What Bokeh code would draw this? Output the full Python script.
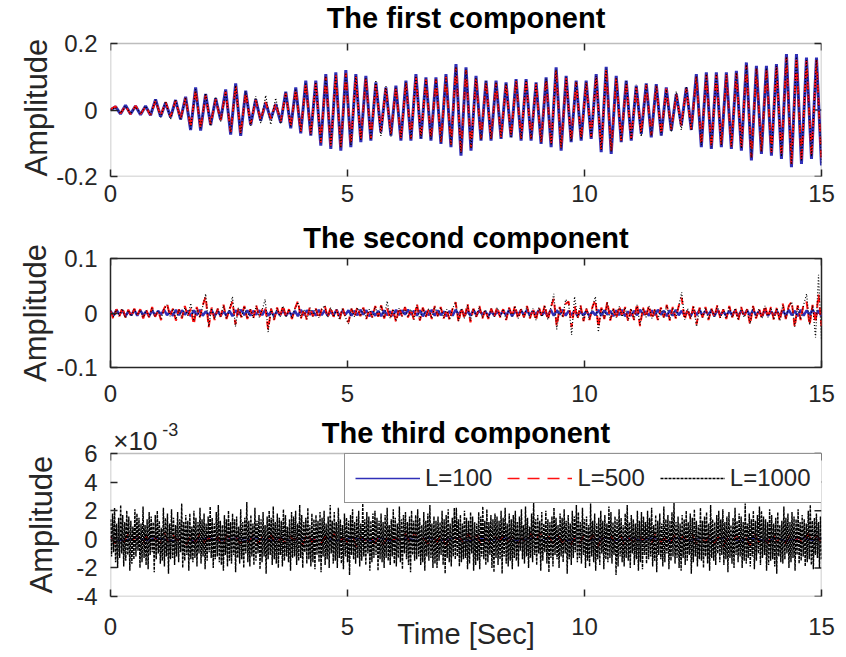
import numpy as np
from bokeh.plotting import figure
from bokeh.layouts import column
from bokeh.models import Range1d, FixedTicker, Legend, LegendItem, Label, Title, BoxAnnotation
from bokeh.embed import file_html
from bokeh.resources import INLINE

# ---------------------------------------------------------------
# Component 1: successive extrema of each reconstruction (x 1e-3)
# ---------------------------------------------------------------
c1_l100 = [0,
    10, -12, 14, -12, 12, -14, 12, -16, 32, -20, 22, -22, 30, -28, 40, -60, 68, -62,
    48, -45, 35, -30, 62, -74, 80, -78, 58, -45, 32, -32, 22, -28, 18, -38, 55, -55,
    68, -70, 88, -77, 88, -107, 108, -117, 113, -122, 120, -112, 108, -97, 103, -92, 83, -67,
    68, -77, 73, -92, 88, -92, 108, -87, 98, -92, 98, -102, 108, -112, 138, -137, 128, -122,
    103, -92, 88, -92, 88, -87, 83, -82, 93, -92, 93, -92, 83, -102, 98, -112, 128, -122,
    103, -97, 88, -92, 88, -87, 108, -127, 130, -132, 103, -97, 88, -92, 73, -72,
    80, -82, 78, -77, 68, -62, 48, -47, 68, -60, 108, -112, 113, -117, 113, -112, 113, -117,
    118, -122, 143, -152, 133, -132, 133, -137, 138, -147, 168, -172, 168, -162, 158, -147, 158, -167]

c1_l500 = [2,
    11, -10, 12, -13, 13, -12, 10, -15, 28, -18, 24, -20, 28, -26, 36, -52, 60, -56,
    44, -42, 32, -30, 55, -66, 72, -70, 52, -42, 30, -30, 24, -26, 20, -34, 50, -50,
    62, -64, 80, -72, 82, -98, 100, -108, 104, -112, 110, -104, 100, -90, 96, -86, 78, -64,
    66, -72, 68, -86, 82, -86, 100, -82, 92, -86, 92, -96, 100, -104, 128, -128, 120, -114,
    96, -86, 84, -86, 82, -82, 78, -78, 88, -86, 88, -86, 78, -96, 92, -104, 120, -114,
    96, -92, 84, -86, 82, -82, 100, -118, 122, -124, 96, -92, 82, -86, 68, -68,
    76, -76, 72, -72, 64, -58, 46, -46, 64, -58, 100, -104, 106, -110, 106, -104, 106, -110,
    110, -114, 134, -142, 124, -124, 124, -128, 130, -138, 158, -162, 158, -152, 148, -138, 150, -156]

c1_l1000 = [0,
    8, -10, 12, -12, 10, -12, 12, -14, 30, -22, 26, -28, 32, -30, 38, -56, 62, -58,
    50, -48, 40, -34, 56, -68, 74, -72, 56, -48, 42, -40, 44, -44, 36, -42, 52, -52,
    64, -66, 82, -74, 84, -100, 102, -110, 106, -114, 112, -106, 102, -92, 98, -90, 90, -78,
    72, -80, 70, -88, 84, -88, 102, -84, 94, -88, 94, -98, 102, -106, 130, -130, 122, -116,
    98, -90, 86, -88, 84, -84, 80, -84, 90, -88, 90, -88, 80, -98, 94, -106, 122, -116,
    98, -94, 86, -88, 84, -84, 102, -120, 124, -126, 98, -94, 86, -90, 76, -80,
    78, -78, 74, -76, 62, -66, 56, -60, 70, -62, 102, -106, 108, -112, 108, -106, 108, -112,
    112, -116, 136, -144, 126, -126, 126, -130, 132, -140, 160, -164, 160, -154, 150, -140, 152, -158]

# ---------------------------------------------------------------
# Component 2 (x 1e-3)
# ---------------------------------------------------------------
c2_l100 = [
    4, -5, 6, -3, 5, -6, 3, -4, 6, -5, 5, -4, 3, -6, 5, -5, 4, -3, 6, -4,
    3, -5, 6, -4, 5, -3, 4, -6, 5, -4, 6, -5, 3, -4, 5, -6, 4, -5, 3, -5,
    4, -6, 5, -3, 6, -4, 5, -5, 4, -3, 5, -4, 6, -5, 3, -6, 4, -4, 5, -5,
    3, -5, 4, -6, 6, -4, 5, -3, 4, -5, 6, -4, 5, -5, 3, -4, 6, -6, 4, -3,
    5, -5, 4, -4, 6, -3, 5, -6, 3, -5, 4, -6, 5, -4, 3, -5, 6, -4, 5, -3,
    6, -3, 4, -5, 5, -6, 3, -4, 6, -5, 5, -4, 3, -6, 4, -5, 6, -3, 5, -4,
    4, -5, 6, -4, 5, -3, 3, -6, 4, -5, 3, -4, 5, -5, 6, -6, 4, -3, 5, -4,
    6, -5, 4, -3, 5, -4, 3, -6, 6, -5, 5, -3, 6, -5, 4, -4, 5, -6, 3, -4,
    4, -6, 3, -4, 6, -5, 5, -3, 4, -6, 5, -4, 6, -6, 3, -5, 4, -4, 6, -3,
    3, -5, 5, -4, 6, -3, 4, -6, 5, -5, 6, -4, 4, -5, 3, -6, 5, -4, 6, -5,
    4, -3, 5, -6, 6, -4, 3, -5, 4, -4, 5, -6, 4, -3, 5, -5, 6, -4, 3, -6,
    6, -5, 3, -4, 4, -6, 5, -5, 6, -4, 4, -6, 6, -5, 5, -4, 7, -6, 5, -6]

c2_l500 = [
    4, -11, 7, -6, 10, -8, 6, -7, 8, -4, 7, -10, 6, -8, 11, -7, 4, -13, 8, 18,
    -6, 8, -14, 7, -10, 13, -6, 8, -21, 11, -8, 14, 30, -26, 10, -13, 8, -7, 15, -11,
    7, 21, -21, 10, -8, 13, -11, 7, -10, 14, -8, 6, 11, -30, 8, -13, 10, -7, 14, -8,
    7, -11, 8, 22, -10, 7, -13, 11, -6, 8, -10, 7, 14, -8, 11, -7, 6, -13, 10, -8,
    -17, 8, -7, 11, -6, 10, -11, 7, -8, 13, -7, 14, -10, 8, -11, 7, -17, 10, -6, 11,
    -8, 7, -13, 17, -14, 10, -7, 8, -11, 13, -6, 11, -10, 7, -13, 8, 20, -17, 10, -11,
    17, -17, 8, -7, 13, -10, 6, -11, 8, -7, 11, -8, 7, -13, 10, -6, 14, -11, 7, -8,
    13, -10, 8, -14, 11, -7, 15, -13, 10, 26, -24, 11, -8, 17, 21, -26, 13, -10, 14, -15,
    8, -13, 11, 24, -26, 10, -11, 21, -14, 8, -10, 13, -7, 11, -15, 8, -13, 17, -24, 10,
    -8, 14, -11, 7, -13, 10, -8, 15, -14, 11, -10, 13, 28, -13, 8, -11, 14, -21, 10, -8,
    11, -13, 8, -7, 14, -10, 7, -11, 13, -8, 10, -14, 11, -8, 7, -21, 13, -10, 8, -11,
    14, -8, 11, -13, 10, -15, 17, -11, 13, 21, -26, 14, -13, 17, 20, -22, 15, -18, 34, -24]

c2_l1000 = [
    4, -7, 6, -5, 8, -9, 5, -6, 7, -4, 6, -8, 5, -7, 9, -6, 4, -10, 7, 15,
    -6, 8, -12, 6, -9, 10, -5, 18, -15, 9, -8, 12, 35, -25, 9, -11, 8, -7, 14, -10,
    6, 30, -25, 10, -8, 12, -10, 7, -9, 13, -8, 6, 25, -35, 8, -12, 9, -7, 13, -8,
    7, -10, 8, 20, -9, 6, -11, 10, -6, 8, -9, 7, 14, -8, 10, -7, 6, -12, 9, -8,
    -20, 8, -7, 10, -6, 9, -10, 7, -8, 12, -7, 14, -9, 22, -10, 7, -15, 9, -6, 10,
    -8, 7, -12, 15, -13, 9, -7, 8, -10, 12, -6, 10, -9, 7, -12, 8, 20, -15, 9, -10,
    15, -14, 8, -7, 12, -9, 6, -10, 8, -7, 10, -8, 7, -12, 9, -6, 13, -10, 7, -8,
    12, -9, 8, -13, 10, -7, 14, -12, 9, 35, -30, 10, -8, 25, 18, -40, 30, -9, 13, -14,
    8, -12, 10, 30, -35, 9, -10, 20, -13, 8, -9, 12, -7, 10, -14, 8, -12, 15, -22, 9,
    -8, 13, -10, 7, -12, 9, -8, 14, -13, 10, -9, 12, 38, -12, 8, -10, 13, -25, 9, -8,
    10, -12, 8, -7, 13, -9, 7, -10, 12, -8, 9, -13, 10, -8, 7, -20, 12, -9, 8, -10,
    13, -8, 10, -12, 9, -14, 15, -10, 12, 20, -25, 13, -12, 15, 35, -22, 14, -45, 70, -50]

# ---------------------------------------------------------------
# Component 3 (x 1e-4)
# ---------------------------------------------------------------
c3_l100 = [
    1, -1, 0, 1, -1, 1, 0, -1, 1, -1, 0, 1, -1, 0, 1, -1, 1, 0, -1, 1,
    -1, 0, 1, -1, 1, -1, 0, 1, 0, -1, 1, -1, 0, 1, -1, 1, 0, -1, 1, 0,
    -1, 1, -1, 0, 1, -1, 0, 1, -1, 1, 0, -1, 1, -1, 0, 1, -1, 0, 1, -1,
    1, 0, -1, 1, -1, 0, 1, -1, 1, 0, -1, 1, 0, -1, 1, -1, 0, 1, -1, 1]

c3_l500 = [
    2, -3, 1, -2, 4, -1, 3, -4, 2, -2, 1, -3, 5, -2, 3, -1, 2, -4, 3, -2,
    4, -2, 1, -3, 2, -5, 3, -1, 2, -3, 1, -2, 4, -3, 2, -1, 3, -4, 1, -2,
    3, -1, 2, -4, 5, -2, 1, -3, 2, -2, 4, -3, 1, -2, 3, -5, 2, -1, 3, -3,
    2, -4, 3, -1, 1, -2, 4, -3, 5, -2, 1, -3, 2, -2, 3, -4, 1, -1, 2, -3,
    4, -2, 3, -5, 1, -3, 2, -1, 3, -2, 2, -4, 1, -3, 4, -2, 5, -1, 2, -3,
    3, -2, 1, -4, 2, -3, 4, -1, 3, -5, 1, -2, 2, -3, 3, -4, 1, -2, 4, -1,
    2, -3, 5, -2, 1, -4, 3, -2, 2, -1, 4, -3, 1, -2, 3, -3, 2, -5, 1, -2,
    3, -1, 2, -4, 4, -2, 1, -3, 5, -2, 2, -3, 3, -1, 1, -4, 4, -2, 3, -3]

c3_l1000 = [
    14, -12, 18, -9, 22, -16, 11, -20, 15, -13, 24, -10, 17, -19, 12, -15, 20, -11, 16, -22,
    13, -17, 9, -14, 21, -12, 18, -8, 15, -20, 11, -16, 23, -13, 10, -18, 14, -21, 19, -11,
    16, -9, 12, -23, 17, -14, 20, -10, 13, -17, 8, -15, 22, -19, 15, -12, 18, -24, 11, -14,
    21, -13, 15, -18, 10, -12, 19, -16, 14, -9, 25, -20, 12, -15, 17, -11, 13, -22, 18, -14,
    9, -16, 20, -13, 15, -19, 12, -10, 22, -17, 14, -12, 18, -21, 11, -15, 16, -9, 23, -13,
    15, -20, 11, -14, 19, -12, 24, -16, 13, -18, 10, -22, 17, -11, 14, -19, 20, -15, 12, -17,
    18, -11, 14, -23, 16, -13, 9, -17, 21, -14, 12, -20, 15, -10, 26, -16, 13, -19, 17, -12,
    11, -18, 22, -15, 13, -10, 17, -21, 14, -16, 19, -12, 10, -24, 16, -14, 20, -11, 15, -18,
    23, -14, 12, -17, 18, -20, 15, -11, 13, -19, 21, -15, 17, -12, 9, -16, 14, -22, 19, -13,
    16, -12, 20, -18, 11, -15, 24, -13, 17, -20, 12, -9, 15, -17, 22, -14, 10, -19, 18, -16,
    14, -21, 17, -11, 13, -16, 19, -23, 15, -12, 20, -18, 11, -14, 16, -20, 24, -10, 13, -17,
    19, -15, 12, -20, 22, -13, 14, -17, 10, -21, 18, -12, 15, -16, 13, -25, 17, -11, 21, -14,
    12, -17, 16, -13, 20, -19, 11, -15, 25, -12, 14, -18, 19, -10, 16, -22, 13, -16, 18, -13,
    20, -11, 15, -22, 13, -14, 18, -16, 12, -20, 17, -13, 22, -15, 10, -18, 14, -12, 21, -17,
    15, -19, 11, -13, 23, -16, 14, -21, 17, -10, 19, -14, 12, -18, 16, -23, 20, -11, 13, -15,
    17, -14, 21, -12, 15, -18, 10, -16, 19, -22, 13, -12, 18, -15, 24, -13, 11, -20, 16, -17,
    13, -20, 16, -15, 12, -11, 20, -18, 14, -24, 17, -13, 21, -16, 11, -19, 15, -12, 22, -14,
    22, -12, 14, -19, 17, -16, 11, -14, 20, -13, 15, -21, 13, -17, 19, -10, 16, -22, 12, -18,
    11, -15, 19, -21, 16, -12, 23, -14, 13, -18, 21, -16, 12, -11, 17, -20, 14, -23, 18, -13,
    16, -18, 13, -14, 20, -24, 15, -12, 22, -17, 11, -19, 18, -15, 14, -21, 17, -13, 20, -15,
    12, -19, 16, -8, 21, -14, 10, -17, 23, -12, 15, -20, 9, -13, 18, -16, 26, -11, 14, -18,
    17, -10, 13, -22, 19, -15, 11, -9, 20, -17, 14, -23, 12, -13, 16, -19, 22, -11, 15, -14,
    10, -20, 18, -12, 15, -16, 21, -10, 13, -24, 17, -14, 11, -18, 20, -13, 16, -9, 24, -16,
    19, -13, 12, -17, 22, -11, 14, -20, 16, -15, 10, -19, 25, -12, 13, -16, 18, -22, 11, -14,
    15, -18, 20, -10, 13, -21, 17, -14, 11, -16, 23, -13, 19, -17, 12, -11, 16, -25, 14, -19,
    21, -12, 15, -16, 10, -19, 18, -13, 24, -15, 12, -20, 17, -10, 14, -18, 11, -14, 20, -22,
    13, -16, 19, -21, 16, -11, 12, -17, 20, -14, 15, -12, 22, -19, 10, -15, 17, -23, 13, -11,
    18, -14, 11, -19, 23, -16, 14, -10, 17, -21, 13, -15, 19, -12, 26, -17, 12, -13, 16, -20,
    11, -22, 17, -13, 14, -18, 20, -15, 12, -11, 18, -24, 15, -16, 21, -12, 13, -19, 10, -14,
    22, -15, 13, -20, 16, -12, 19, -17, 11, -22, 24, -13, 14, -15, 12, -18, 17, -10, 20, -16,
    14, -11, 21, -18, 12, -14, 16, -23, 19, -13, 10, -17, 15, -20, 22, -11, 13, -16, 18, -12,
    16, -20, 12, -15, 25, -17, 11, -13, 18, -19, 14, -12, 20, -21, 13, -15, 17, -10, 23, -18,
    20, -13, 16, -11, 14, -22, 12, -18, 21, -15, 17, -14, 11, -19, 15, -24, 19, -12, 10, -16,
    13, -17, 23, -14, 15, -10, 18, -20, 12, -16, 19, -13, 16, -22, 14, -11, 21, -17, 12, -15,
    17, -12, 14, -19, 11, -16, 20, -14, 24, -18, 13, -21, 15, -11, 18, -13, 12, -20, 16, -14]

T_END = 15.0
x_ticks = [0, 5, 10, 15]
series_labels = ["L=100", "L=500", "L=1000"]

FONT = "Liberation Sans"
INK = "#262626"
BLUE = "#3030b8"
RED = "#ff1010"
BLACK = "#000000"
TICK_LEN = 7
TITLE_SIZE = "29px"
YLABEL_SIZE = "31px"


def time_axis(values):
    return np.linspace(0.0, T_END, len(values))


def style_axes(p, y_ticks, y_tick_labels, xlabel_standoff):
    p.xgrid.visible = False
    p.ygrid.visible = False
    p.background_fill_color = "white"
    p.border_fill_color = "white"
    for ax, ticks in ((p.xaxis[0], x_ticks), (p.yaxis[0], y_ticks)):
        ax.ticker = FixedTicker(ticks=ticks)
        ax.axis_line_color = None
        ax.major_tick_in = TICK_LEN
        ax.major_tick_out = 0
        ax.major_tick_line_color = INK
        ax.major_tick_line_width = 1.5
        ax.minor_tick_line_color = None
        ax.major_label_text_font = FONT
        ax.major_label_text_font_size = "24px"
        ax.major_label_text_color = INK
    p.xaxis.major_label_standoff = xlabel_standoff
    p.yaxis.major_label_standoff = 13
    p.yaxis.major_label_overrides = dict(zip(y_ticks, y_tick_labels))
    p.xaxis.major_label_overrides = {t: str(t) for t in x_ticks}


def box_ticks(p, y_ticks, y_top):
    # inward tick marks on the top and right edges of the box
    p.ray(x=x_ticks, y=[y_top] * len(x_ticks), length=TICK_LEN, length_units="screen",
          angle=-np.pi / 2, line_color=INK, line_width=1.5)
    p.ray(x=[T_END] * len(y_ticks), y=y_ticks, length=TICK_LEN, length_units="screen",
          angle=np.pi, line_color=INK, line_width=1.5)


def boxed_panel(title, height, left, right, top, bottom, y_lo, y_box_top, px_per_unit, head,
                title_gap, y_ticks, y_tick_labels, xlabel_standoff, ylabel_offset, ylabel_standoff):
    """Axes box with a frame that reaches `head` pixels above it, so the title
    (and any note) can be placed as annotations inside the frame."""
    y_hi = y_box_top + head / px_per_unit
    p = figure(width=846, height=height, x_range=Range1d(0, T_END), y_range=Range1d(y_lo, y_hi),
               output_backend="svg", toolbar_location=None, title_location=None,
               min_border_left=left, min_border_right=right, min_border_top=top,
               min_border_bottom=bottom)
    p.outline_line_color = None
    style_axes(p, y_ticks, y_tick_labels, xlabel_standoff)
    p.add_layout(BoxAnnotation(left=0, right=T_END, bottom=y_lo, top=y_box_top,
                               fill_color=None, fill_alpha=0, line_color=INK, line_width=1.5))
    box_ticks(p, y_ticks, y_box_top)
    p.add_layout(Title(text="Amplitude", align="left", offset=ylabel_offset, standoff=ylabel_standoff,
                       text_font=FONT, text_font_size=YLABEL_SIZE, text_font_style="normal",
                       text_color=INK), "left")
    p.add_layout(Label(x=T_END / 2, y=y_box_top + title_gap / px_per_unit, text=title,
                       text_font=FONT, text_font_size=TITLE_SIZE, text_font_style="bold",
                       text_color="#000000", text_align="center", text_baseline="middle"))
    return p


def draw(p, scale, l100, l500, l1000, widths, dashes):
    r1 = p.line(time_axis(l100), np.asarray(l100) * scale, line_color=BLUE, line_width=widths[0])
    r2 = p.line(time_axis(l500), np.asarray(l500) * scale, line_color=RED, line_width=widths[1],
                line_dash=dashes[0])
    r3 = p.line(time_axis(l1000), np.asarray(l1000) * scale, line_color=BLACK, line_width=widths[2],
                line_dash=dashes[1])
    return r1, r2, r3


# first component: frame starts at the very top, box top 43 px below it
p1 = boxed_panel("The first component", 212, 103, 25, 0, 36, -0.2, 0.2, 332.5, 43, 26,
                 [-0.2, 0, 0.2], ["-0.2", "0", "0.2"], 8, 0, 0)
draw(p1, 1e-3, c1_l100, c1_l500, c1_l1000, (3, 2, 1.3), ("8 5", "1 2"))

# second component
p2 = figure(width=846, height=193, x_range=Range1d(0, T_END), y_range=Range1d(-0.1, 0.1),
            output_backend="svg", toolbar_location=None,
            min_border_left=105, min_border_right=23, min_border_top=46, min_border_bottom=38)
p2.outline_line_color = INK
p2.outline_line_width = 1.5
p2.title.text = "The second component"
p2.title.align = "center"
p2.title.text_font = FONT
p2.title.text_font_style = "bold"
p2.title.text_font_size = TITLE_SIZE
p2.title.text_color = "#000000"
style_axes(p2, [-0.1, 0, 0.1], ["-0.1", "0", "0.1"], 17)
p2.yaxis.axis_label = "Amplitude"
p2.yaxis.axis_label_text_font = FONT
p2.yaxis.axis_label_text_font_size = YLABEL_SIZE
p2.yaxis.axis_label_text_font_style = "normal"
p2.yaxis.axis_label_text_color = INK
p2.yaxis.axis_label_standoff = 0
box_ticks(p2, [-0.1, 0, 0.1], 0.1)
draw(p2, 1e-3, c2_l100, c2_l500, c2_l1000, (2.5, 2, 1.2), ("8 5", "1 2"))

# third component, plotted in units of 1e-3
y3_ticks = [-4, -2, 0, 2, 4, 6]
PX3 = 14.3
p3 = boxed_panel("The third component", 252, 110, 23, 10, 61, -4, 6, PX3, 38, 21,
                 y3_ticks, [str(v) for v in y3_ticks], 21, 3, 30)
r1, r2, r3 = draw(p3, 0.1, c3_l100, c3_l500, c3_l1000, (1.3, 1.3, 1.4), ("12 8", "3 1"))

xa = p3.below[0]
xa.axis_label = "Time [Sec]"
xa.axis_label_text_font = FONT
xa.axis_label_text_font_size = "29px"
xa.axis_label_text_font_style = "normal"
xa.axis_label_text_color = INK
xa.axis_label_standoff = -20

# exponent note above the y axis
p3.add_layout(Label(x=0.06, y=6 + 13 / PX3, text="\u00d710",
                    text_font=FONT, text_font_size="26px", text_color=INK,
                    text_baseline="alphabetic", text_align="left"))
p3.add_layout(Label(x=1.09, y=6 + 24 / PX3, text="-3",
                    text_font=FONT, text_font_size="18px", text_color=INK,
                    text_baseline="alphabetic", text_align="left"))

legend = Legend(items=[LegendItem(label=lab, renderers=[r]) for lab, r in zip(series_labels, (r1, r2, r3))],
                orientation="horizontal", location=(234, 93))
legend.margin = 0
legend.padding = 10
legend.spacing = 15
legend.glyph_width = 65
legend.glyph_height = 26
legend.label_standoff = 5
legend.label_text_font = FONT
legend.label_text_font_size = "24px"
legend.label_text_color = INK
legend.border_line_color = INK
legend.border_line_width = 1.5
legend.background_fill_alpha = 1.0
p3.add_layout(legend, "center")

layout = column(p1, p2, p3, spacing=0)
open("out.html", "w").write(file_html(layout, INLINE))
